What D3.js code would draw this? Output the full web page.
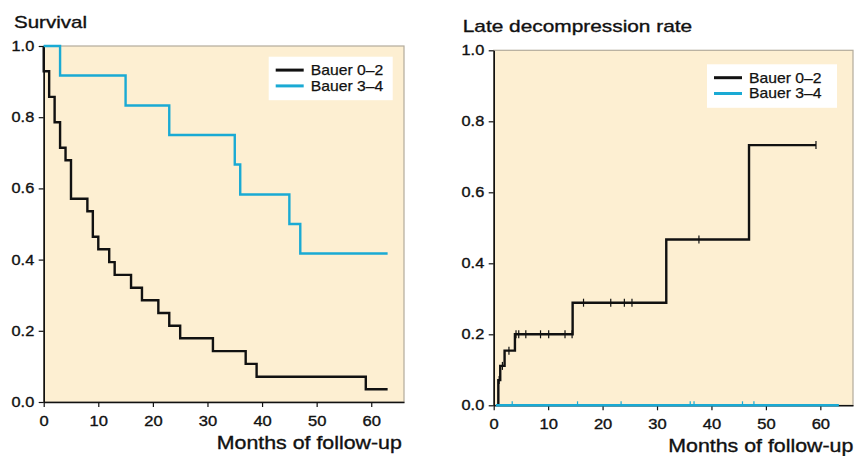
<!DOCTYPE html>
<html lang="en">
<head>
<meta charset="UTF-8">
<title>Survival and late decompression</title>
<style>
    body { margin: 0; background: #fff; }
    svg text { font-family: "Liberation Sans", Arial, Helvetica, sans-serif; fill: #111; }
</style>
</head>
<body>
<script src="https://d3js.org/d3.v7.min.js"></script>
<script>
    // survival curves (left panel)
    const survTimes02 = [0, 0, 1, 2, 3, 4, 5, 8, 9, 10, 12, 13, 16, 18, 21, 23, 25, 31, 37, 39, 59, 63];
    const survVals02 = [1, 0.929, 0.857, 0.786, 0.714, 0.679, 0.571, 0.536, 0.464, 0.429, 0.393, 0.357,
        0.321, 0.286, 0.25, 0.214, 0.179, 0.143, 0.107, 0.071, 0.036, 0.036];
    const survTimes34 = [0, 3, 15, 23, 35, 36, 45, 47, 63];
    const survVals34 = [1, 0.917, 0.833, 0.75, 0.667, 0.583, 0.5, 0.417, 0.417];

    // late decompression rate (right panel)
    const decTimes02 = [0.85, 0.85, 1.2, 2, 3.9, 14.5, 31.7, 46.9, 59.2];
    const decVals02 = [0, 0.071, 0.111, 0.154, 0.2, 0.289, 0.467, 0.733, 0.733];
    const decCensor02 = [1.0, 1.6, 2.8, 4.1, 4.6, 5.9, 8.6, 10.1, 13.1, 14.4, 16.5, 21.5, 24.0, 25.4, 37.7, 59.2];
    const decTimes34 = [0.4, 63.4];
    const decVals34 = [0, 0];
    const decCensor34 = [3.4, 15.4, 23.4, 36.1, 36.8, 45.7, 47.8];

    const seriesNames = ["Bauer 0\u20132", "Bauer 3\u20134"];
    const seriesColors = ["#111111", "#1aaad4"];
    const xTicks = [0, 10, 20, 30, 40, 50, 60];
    const yTicks = [0, 0.2, 0.4, 0.6, 0.8, 1.0];

    const svg = d3.select("body").append("svg")
        .attr("width", 856)
        .attr("height", 456);

    function zip(ts, vs) {
        return ts.map((t, i) => ({t: t, v: vs[i]}));
    }

    // value of a step curve at time t
    function stepValue(ts, vs, t) {
        let v = vs[0];
        for (let i = 0; i < ts.length; i++) {
            if (ts[i] <= t) v = vs[i];
        }
        return v;
    }

    // the original lettering is a bit wider and heavier than Arial
    function heavy(sel, len) {
        sel.attr("textLength", len)
            .attr("lengthAdjust", "spacingAndGlyphs")
            .attr("stroke", "#111")
            .attr("stroke-width", 0.35);
    }

    function drawPanel(opt) {
        const x = d3.scaleLinear().domain([0, 66]).range([opt.left, opt.right]);
        const y = d3.scaleLinear().domain([0, 1]).range([opt.bottom, opt.top]);
        const g = svg.append("g");

        g.append("rect")
            .attr("x", opt.left)
            .attr("y", opt.top)
            .attr("width", opt.right - opt.left)
            .attr("height", opt.bottom - opt.top)
            .attr("fill", "#fdefd2")
            .attr("stroke", "#b3ab9c")
            .attr("stroke-width", 1.2);

        const xAxis = g.append("g")
            .attr("transform", `translate(0,${opt.bottom})`)
            .call(d3.axisBottom(x).tickValues(xTicks).tickSize(5).tickPadding(9).tickSizeOuter(0));
        const yAxis = g.append("g")
            .attr("transform", `translate(${opt.left},0)`)
            .call(d3.axisLeft(y).tickValues(yTicks).tickFormat(d3.format(".1f")).tickSize(5).tickPadding(4.5).tickSizeOuter(0));
        [xAxis, yAxis].forEach(a => {
            a.select(".domain").attr("stroke", "#111").attr("stroke-width", 1.6);
            a.selectAll(".tick line").attr("stroke", "#111").attr("stroke-width", 1.2);
            a.selectAll(".tick text")
                .attr("fill", "#111")
                .style("font-size", "14px");
        });
        xAxis.selectAll(".tick text").call(heavy, d => String(d).length * 9.2);
        yAxis.selectAll(".tick text").call(heavy, 22.7);

        const line = d3.line()
            .x(d => x(d.t))
            .y(d => y(d.v))
            .curve(d3.curveStepAfter);

        opt.series.forEach((s, i) => {
            g.append("path")
                .datum(zip(s.times, s.vals))
                .attr("fill", "none")
                .attr("stroke", seriesColors[i])
                .attr("stroke-width", 2.4)
                .attr("d", line);
            if (s.censor) {
                g.selectAll(null)
                    .data(s.censor)
                    .enter()
                    .append("line")
                    .attr("x1", d => x(d))
                    .attr("x2", d => x(d))
                    .attr("y1", d => y(stepValue(s.times, s.vals, d)) - 4)
                    .attr("y2", d => y(stepValue(s.times, s.vals, d)) + (i === 1 ? 0 : 4))
                    .attr("stroke", seriesColors[i])
                    .attr("stroke-width", 1.2);
            }
        });

        g.append("text")
            .attr("x", opt.titleX)
            .attr("y", opt.titleY)
            .style("font-size", "17px")
            .call(heavy, opt.titleLen)
            .text(opt.title);

        g.append("text")
            .attr("x", opt.xLabelRight)
            .attr("y", opt.xLabelY)
            .attr("text-anchor", "end")
            .style("font-size", "18px")
            .call(heavy, 185)
            .text("Months of follow-up");

        const leg = g.append("g").attr("transform", `translate(${opt.legX},${opt.legY})`);
        leg.append("rect")
            .attr("width", opt.legW)
            .attr("height", 43.5)
            .attr("fill", "#fff");
        seriesNames.forEach((n, i) => {
            leg.append("line")
                .attr("x1", 7)
                .attr("x2", 35)
                .attr("y1", 13.4 + i * 15.8)
                .attr("y2", 13.4 + i * 15.8)
                .attr("stroke", seriesColors[i])
                .attr("stroke-width", 3);
            leg.append("text")
                .attr("x", 42)
                .attr("y", 18.3 + i * 15.8)
                .style("font-size", "15px")
                .call(heavy, 72.5)
                .attr("stroke-width", 0.25)
                .text(n);
        });
    }

    drawPanel({
        left: 43.7, right: 404, top: 46, bottom: 402,
        title: "Survival", titleX: 14, titleY: 27.5, titleLen: 73,
        xLabelRight: 401.8, xLabelY: 449,
        legX: 268.7, legY: 56.7, legW: 124,
        series: [
            {times: survTimes02, vals: survVals02},
            {times: survTimes34, vals: survVals34}
        ]
    });

    drawPanel({
        left: 493.7, right: 853, top: 50.3, bottom: 405.3,
        title: "Late decompression rate", titleX: 462.7, titleY: 31.5, titleLen: 229.5,
        xLabelRight: 853.3, xLabelY: 451.7,
        legX: 707, legY: 64.3, legW: 130,
        series: [
            {times: decTimes02, vals: decVals02, censor: decCensor02},
            {times: decTimes34, vals: decVals34, censor: decCensor34}
        ]
    });
</script>
</body>
</html>
